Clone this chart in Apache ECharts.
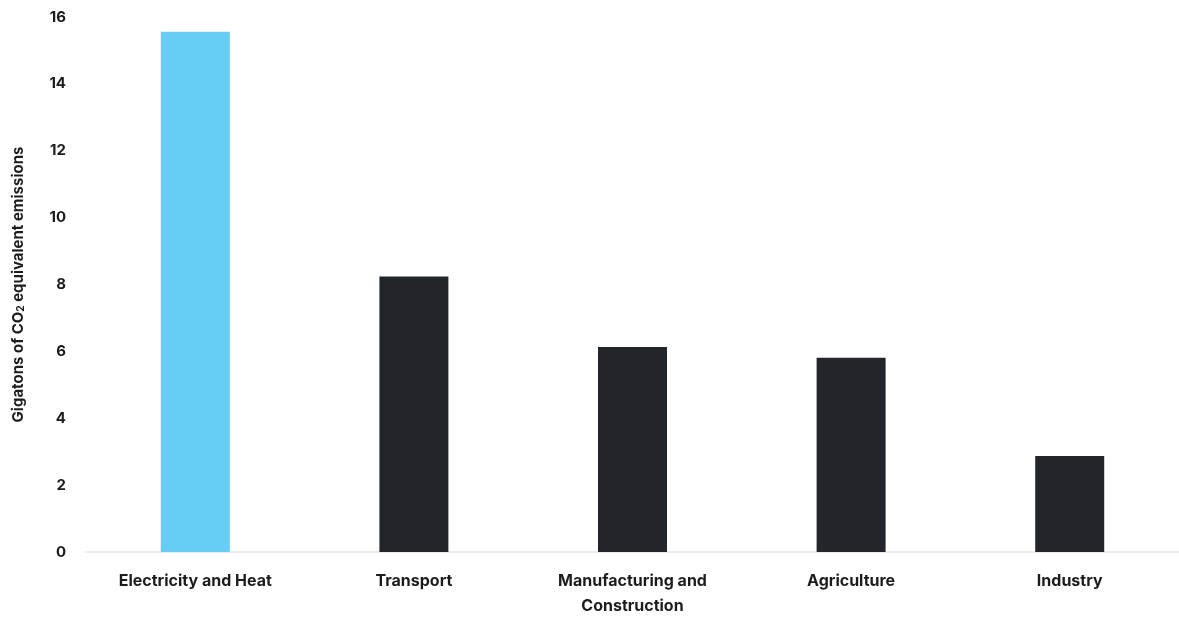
<!DOCTYPE html>
<html>
<head>
<meta charset="utf-8">
<script src="https://cdn.jsdelivr.net/npm/echarts@6/dist/echarts.min.js"></script>
<style>
html, body {margin:0; padding:0; background:#fff;}
#chart {width:1179px; height:619px;}
</style>
</head>
<body>
<div id="chart"></div>
<script>
// 数据
var categories = ['Electricity and Heat', 'Transport', 'Manufacturing and\nConstruction', 'Agriculture', 'Industry'];
var emissions = [15.56, 8.24, 6.13, 5.81, 2.87];
var barColors = ['#66cdf5', '#22262b', '#22262b', '#22262b', '#22262b'];
var yTicks = [0, 2, 4, 6, 8, 10, 12, 14, 16];

var fontName = 'Inter, "Open Sans", sans-serif';

var option = {
	animation: false,
	grid: {left: 86, width: 1097, top: 17, height: 540, containLabel: false},
	xAxis: {
		type: 'category',
		data: categories,
		axisLine: {show: true, lineStyle: {color: '#e3e5e6', width: 1.5}},
		axisTick: {show: false},
		axisLabel: {
			color: '#1c1c1c', fontFamily: fontName, fontWeight: 'bold', fontSize: 16,
			lineHeight: 25, margin: 17, interval: 0
		}
	},
	yAxis: {
		type: 'value',
		min: yTicks[0],
		max: yTicks[yTicks.length - 1],
		interval: 2,
		splitLine: {show: false},
		axisLine: {show: false},
		axisTick: {show: false},
		axisLabel: {color: '#1c1c1c', fontFamily: fontName, fontWeight: 'bold', fontSize: 15, margin: 20},
		name: '{n|Gigatons of CO}{s|2}{n| equivalent emissions}',
		nameLocation: 'middle',
		nameGap: 60,
		nameRotate: 90,
		nameTextStyle: {
			rich: {
				n: {color: '#1c1c1c', fontFamily: fontName, fontWeight: 'bold', fontSize: 15},
				s: {color: '#1c1c1c', fontFamily: fontName, fontWeight: 'bold', fontSize: 10, verticalAlign: 'bottom', padding: [6, 0, 0, 0]}
			}
		}
	},
	series: [{
		type: 'bar',
		barWidth: 69,
		data: emissions.map(function (v, i) {
			return {value: v, itemStyle: {color: barColors[i]}};
		})
	}]
};

var myChart = echarts.init(document.getElementById('chart'));
myChart.setOption(option);
</script>
</body>
</html>
